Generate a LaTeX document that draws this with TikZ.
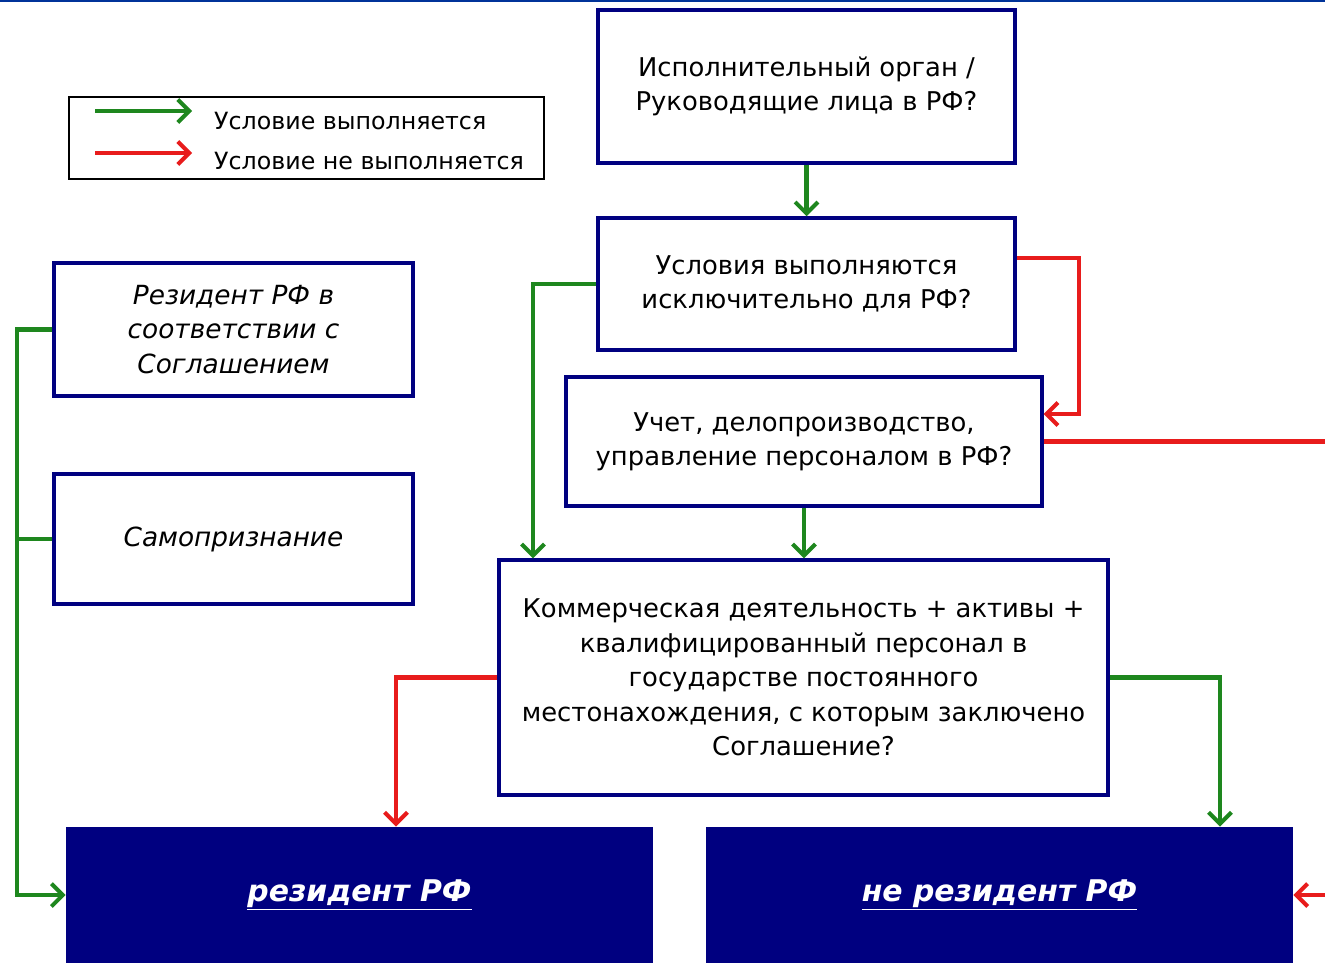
\documentclass[tikz,border=0pt]{standalone}
\usepackage{fontspec}
\setmainfont{DejaVu Sans}
\usetikzlibrary{arrows.meta,calc}
\definecolor{navy}{RGB}{0,0,128}
\definecolor{yesgreen}{RGB}{30,135,30}
\definecolor{nored}{RGB}{232,28,28}
\definecolor{topblue}{RGB}{0,51,153}
\tikzstyle{question}=[draw=navy,line width=2pt,fill=white,align=center,inner sep=0pt,font=\fontsize{14.7}{19.6}\selectfont]
\tikzstyle{source}=[question,font=\fontsize{15}{19.6}\selectfont\itshape]
\tikzstyle{result}=[fill=navy,inner sep=0pt,text=white,font=\fontsize{17}{20}\selectfont\bfseries\itshape]
\tikzstyle{yes} = [draw,yesgreen,line width=2.3pt,-{Straight Barb[length=6.5pt,width=13pt]}]
\tikzstyle{no} = [draw,nored,line width=2.3pt,-{Straight Barb[length=6.5pt,width=13pt]}]
\tikzstyle{yesline} = [draw,yesgreen,line width=2.3pt]

\begin{document}
\begin{tikzpicture}[x=0.02cm,y=-0.02cm]
\useasboundingbox[fill=white] (0,0) rectangle (1325,963);
\draw[topblue,line width=1.5pt] (0,1) -- (1325,1);

% Legend
\node[draw=black,line width=1.1pt,minimum width=9.5cm,minimum height=1.64cm,inner sep=0pt] (legend) at (306.5,138) {};
\coordinate (ly1) at (95,111);  \coordinate (ly2) at (192,111);
\coordinate (ln1) at (95,153);  \coordinate (ln2) at (192,153);
\draw[yes] (ly1) -- (ly2);
\draw[no] (ln1) -- (ln2);
\node[anchor=west,font=\fontsize{13.5}{16}\selectfont] (lyes) at (208,121) {Условие выполняется};
\node[anchor=west,font=\fontsize{13.5}{16}\selectfont] (lno) at (208,161) {Условие не выполняется};

% Questions
\node[question,minimum width=8.34cm,minimum height=3.06cm] (organ) at (806.5,86.5) {Исполнительный орган /\\Руководящие лица в РФ?};
\node[question,minimum width=8.34cm,minimum height=2.64cm] (cond) at (806.5,284) {Условия выполняются\\исключительно для РФ?};
\node[question,minimum width=9.52cm,minimum height=2.58cm] (check) at (804,441.5) {Учет, делопроизводство,\\управление персоналом в РФ?};
\node[question,minimum width=12.18cm,minimum height=4.7cm] (comm) at (803.5,677.5) {Коммерческая деятельность + активы +\\квалифицированный персонал в\\государстве постоянного\\местонахождения, с которым заключено\\Соглашение?};

% Sources
\node[source,minimum width=7.18cm,minimum height=2.66cm] (treaty) at (233.5,329.5) {Резидент РФ в\\соответствии с\\Соглашением};
\node[source,minimum width=7.18cm,minimum height=2.6cm] (self) at (233.5,539) {Самопризнание};

% Results
\node[result,minimum width=11.74cm,minimum height=2.72cm] (res) at (359.5,895) {\underline{резидент РФ}};
\node[result,minimum width=11.74cm,minimum height=2.72cm] (nonres) at (999.5,895) {\underline{не резидент РФ}};

% Connectors
\coordinate (gA) at (533,0);
\coordinate (rA) at (1079,258);
\coordinate (rB) at (1079,414);
\coordinate (rC) at (1340,700);
\coordinate (rD) at (396,0);
\coordinate (gE) at (1220,0);
\coordinate (gF) at (17,600);

\draw[yes] (organ.south) -- (cond.north);
\draw[yes] (cond.west) -| (comm.north -| gA);
\draw[no] (cond.east |- rA) -- (rA) -- (rB) -- (check.east |- rB);
\draw[no] (check.east) -| (rC) |- (nonres.east);
\draw[yes] (check.south) -- (comm.north -| check.south);
\draw[no] (comm.west) -| (res.north -| rD);
\draw[yes] (comm.east) -| (nonres.north -| gE);
\draw[yes] (treaty.west) -| (gF) |- (res.west);
\draw[yesline] (self.west) -- (self.west -| gF);

\end{tikzpicture}
\end{document}
